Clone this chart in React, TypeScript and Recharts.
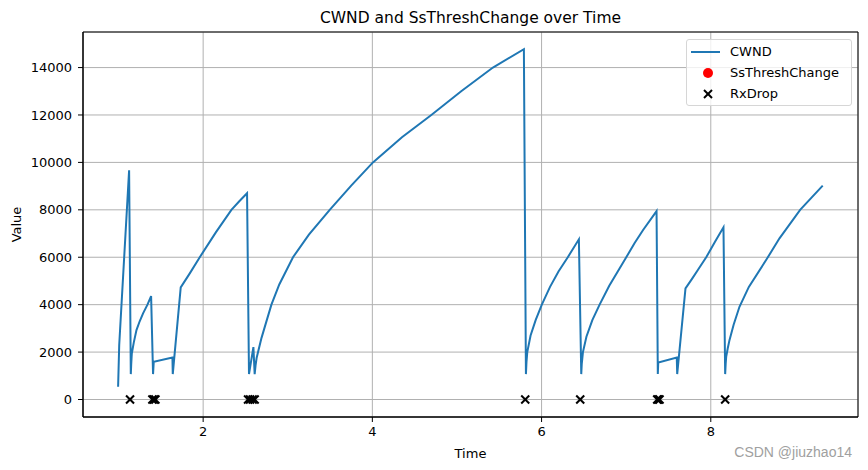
import React from 'react';
import {
  ComposedChart,
  Line,
  Scatter,
  XAxis,
  YAxis,
  CartesianGrid,
  ReferenceArea,
  Label,
} from 'recharts';

// ---- data ----
const cwndTime = [
  0.995, 1.008, 1.125, 1.145, 1.15, 1.157, 1.18, 1.212, 1.25, 1.29, 1.342, 1.385,
  1.408, 1.416, 1.637, 1.641, 1.735, 1.842, 1.96, 2.15, 2.334, 2.43, 2.519,
  2.542, 2.594, 2.609, 2.62, 2.632, 2.649, 2.69, 2.74, 2.807, 2.9, 3.062, 3.25, 3.496,
  3.75, 4.007, 4.35, 4.697, 5.05, 5.425, 5.791,
  5.815, 5.822, 5.831, 5.87, 5.93, 6.003, 6.1, 6.2, 6.31, 6.441,
  6.469, 6.475, 6.489, 6.53, 6.6, 6.686, 6.8, 7.001, 7.1, 7.2, 7.359,
  7.374, 7.379, 7.598, 7.603, 7.701, 7.78, 7.847, 7.946, 8.05, 8.15,
  8.17, 8.176, 8.182, 8.2, 8.221, 8.27, 8.339, 8.45, 8.654, 8.812, 9.056, 9.323,
];
const cwndValue = [
  536, 2300, 9670, 1072, 1500, 1942, 2400, 2926, 3300, 3631, 4000, 4361,
  1072, 1588, 1773, 1072, 4728, 5320, 6000, 7050, 8000, 8370, 8697,
  1072, 2209, 1072, 1450, 1750, 2000, 2600, 3200, 4000, 4850, 6000, 6950, 8000,
  9020, 10000, 11060, 12000, 13000, 14000, 14777,
  1072, 1600, 2000, 2700, 3350, 4000, 4750, 5400, 6000, 6755,
  1072, 1500, 2000, 2650, 3350, 4000, 4800, 6000, 6600, 7150, 7942,
  1072, 1562, 1773, 1072, 4686, 5100, 5459, 6000, 6650, 7262,
  1072, 1500, 1800, 2150, 2503, 3150, 3910, 4750, 5881, 6797, 8000, 9018,
];
const rxDropTime = [
  1.136, 1.4, 1.418, 1.436, 2.531, 2.555, 2.585, 2.609, 5.807, 6.457, 7.367, 7.38, 7.394, 8.17,
];
const ssThreshTime: number[] = [];
const xTicks = [2, 4, 6, 8];
const yTicks = [0, 2000, 4000, 6000, 8000, 10000, 12000, 14000];
const xDomain: [number, number] = [0.58, 9.74];
const yDomain: [number, number] = [-738, 15500];
const seriesNames = ['CWND', 'SsThreshChange', 'RxDrop'];

const cwndData = cwndTime.map((t, i) => ({ t, v: cwndValue[i] }));
const rxData = rxDropTime.map((t) => ({ t, v: 0 }));
const ssData = ssThreshTime.map((t) => ({ t, v: 0 }));

const FONT = '"DejaVu Sans", sans-serif';

const XShape = (props: any) => {
  const { cx, cy } = props;
  if (cx == null || cy == null) return null;
  const s = 4;
  return (
    <g stroke="#000" strokeWidth={2}>
      <line x1={cx - s} y1={cy - s} x2={cx + s} y2={cy + s} />
      <line x1={cx - s} y1={cy + s} x2={cx + s} y2={cy - s} />
    </g>
  );
};

const XLabel = (props: any) => {
  const vb = props.viewBox || {};
  return (
    <text
      x={vb.x + vb.width / 2}
      y={vb.y + 36}
      textAnchor="middle"
      dominantBaseline="central"
      fontSize={13}
      fontFamily={FONT}
      fill="#000"
    >
      Time
    </text>
  );
};

const YLabel = (props: any) => {
  const vb = props.viewBox || {};
  const cx = 16;
  const cy = vb.y + vb.height / 2;
  return (
    <text
      x={cx}
      y={cy}
      transform={`rotate(-90, ${cx}, ${cy})`}
      textAnchor="middle"
      dominantBaseline="central"
      fontSize={13}
      fontFamily={FONT}
      fill="#000"
    >
      Value
    </text>
  );
};

const legendIcon = (i: number) => {
  if (i === 0)
    return (
      <svg width={30} height={10} style={{ position: 'absolute', left: 4, top: -5 }}>
        <line x1={0} y1={5} x2={29} y2={5} stroke="#1f77b4" strokeWidth={2} />
      </svg>
    );
  if (i === 1)
    return (
      <svg width={12} height={12} style={{ position: 'absolute', left: 14.7, top: -6 }}>
        <circle cx={6} cy={6} r={5} fill="red" />
      </svg>
    );
  return (
    <svg width={12} height={12} style={{ position: 'absolute', left: 14.7, top: -6 }}>
      <g stroke="#000" strokeWidth={2}>
        <line x1={2} y1={2} x2={10} y2={10} />
        <line x1={2} y1={10} x2={10} y2={2} />
      </g>
    </svg>
  );
};

const rowCenters = [12, 33, 54];

export default function App() {
  return (
    <div
      style={{
        position: 'absolute',
        left: 0,
        top: 0,
        width: 868,
        height: 470,
        background: '#fff',
        fontFamily: FONT,
      }}
    >
      <div
        style={{
          position: 'absolute',
          left: 83,
          top: 8,
          width: 775,
          height: 20,
          lineHeight: '20px',
          textAlign: 'center',
          fontSize: 15.5,
          color: '#000',
        }}
      >
        CWND and SsThreshChange over Time
      </div>
      <ComposedChart
        width={868}
        height={470}
        margin={{ top: 32, right: 10, bottom: 0, left: 0 }}
      >
        <CartesianGrid stroke="#b0b0b0" strokeWidth={1} />
        <XAxis
          type="number"
          dataKey="t"
          domain={xDomain}
          ticks={xTicks}
          allowDataOverflow
          height={53}
          tickSize={5}
          tickMargin={5}
          axisLine={{ stroke: '#000' }}
          tickLine={{ stroke: '#000' }}
          tick={{ fill: '#000', fontSize: 13, fontFamily: FONT }}
        >
          <Label content={XLabel} />
        </XAxis>
        <YAxis
          type="number"
          dataKey="v"
          domain={yDomain}
          ticks={yTicks}
          allowDataOverflow
          width={83}
          tickSize={5}
          tickMargin={6}
          axisLine={{ stroke: '#000' }}
          tickLine={{ stroke: '#000' }}
          tick={{ fill: '#000', fontSize: 13, fontFamily: FONT }}
        >
          <Label content={YLabel} />
        </YAxis>
        <Line
          data={cwndData}
          dataKey="v"
          name={seriesNames[0]}
          type="linear"
          stroke="#1f77b4"
          strokeWidth={2}
          dot={false}
          activeDot={false}
          isAnimationActive={false}
        />
        <Scatter
          data={ssData}
          dataKey="v"
          name={seriesNames[1]}
          fill="red"
          isAnimationActive={false}
        />
        <Scatter
          data={rxData}
          dataKey="v"
          name={seriesNames[2]}
          shape={XShape}
          isAnimationActive={false}
        />
        <ReferenceArea
          x1={xDomain[0]}
          x2={xDomain[1]}
          y1={yDomain[0]}
          y2={yDomain[1]}
          fill="none"
          fillOpacity={0}
          stroke="#000"
          strokeWidth={1}
          ifOverflow="visible"
        />
      </ComposedChart>
      <div
        style={{
          position: 'absolute',
          left: 686,
          top: 39,
          width: 164,
          height: 65,
          border: '1px solid #d6d6d6',
          borderRadius: 3,
          background: 'rgba(255,255,255,0.8)',
        }}
      >
        {seriesNames.map((name, i) => (
          <div key={name} style={{ position: 'absolute', left: 0, top: rowCenters[i], width: 164 }}>
            {legendIcon(i)}
            <span
              style={{
                position: 'absolute',
                left: 43,
                top: -9,
                fontSize: 13,
                lineHeight: '18px',
                whiteSpace: 'nowrap',
                color: '#000',
              }}
            >
              {name}
            </span>
          </div>
        ))}
      </div>
      <div
        style={{
          position: 'absolute',
          right: 16,
          top: 443,
          fontSize: 14,
          lineHeight: '18px',
          fontFamily: '"Liberation Sans Narrow", "Liberation Sans", sans-serif',
          color: '#a0a0a0',
          whiteSpace: 'nowrap',
        }}
      >
        CSDN @jiuzhao14
      </div>
    </div>
  );
}
